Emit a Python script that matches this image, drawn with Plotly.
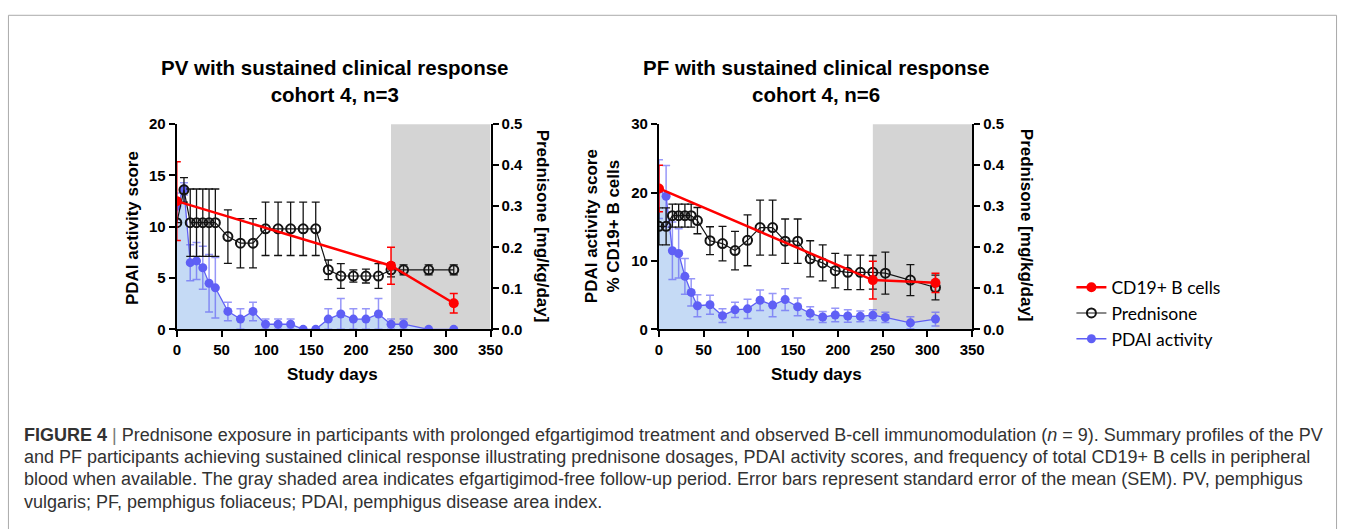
import plotly.graph_objects as go

W, H = 1352, 529

# ---------------- data ----------------
days = [0, 8, 15, 22, 29, 36, 43, 57, 71, 85, 99, 113, 127, 141, 155, 169, 183, 197, 211, 225, 239, 253, 281, 309]
cd19_days = [0, 239, 309]

# PV panel (cohort 4, n=3)
pv_pred = [0.26, 0.34, 0.26, 0.26, 0.26, 0.26, 0.26, 0.226, 0.21, 0.21, 0.245, 0.245, 0.245, 0.245, 0.245,
           0.145, 0.13, 0.13, 0.13, 0.13, 0.145, 0.145, 0.145, 0.145]
pv_pred_err = [0.0, 0.03, 0.082, 0.082, 0.082, 0.082, 0.082, 0.065, 0.06, 0.06, 0.065, 0.065, 0.065, 0.065, 0.065,
               0.024, 0.03, 0.015, 0.017, 0.03, 0.017, 0.012, 0.012, 0.012]
pv_pdai = [12.0, 13.7, 6.5, 6.67, 6.0, 4.5, 4.05, 1.75, 1.0, 1.75, 0.5, 0.5, 0.5, 0.0, 0.0,
           1.0, 1.5, 1.0, 1.0, 1.5, 0.5, 0.5, 0.0, 0.0]
pv_pdai_err = [1.3, 0.6, 1.75, 1.8, 2.1, 2.8, 2.95, 0.9, 1.0, 0.9, 0.5, 0.5, 0.5, 0.0, 0.0,
               1.0, 1.5, 1.0, 1.0, 1.5, 0.5, 0.5, 0.0, 0.0]
pv_cd19 = [12.5, 6.2, 2.55]
pv_cd19_err = [3.85, 1.8, 0.95]

# PF panel (cohort 4, n=6)
pf_pred = [0.251, 0.251, 0.277, 0.277, 0.277, 0.277, 0.265, 0.216, 0.209, 0.192, 0.217, 0.248, 0.248, 0.215, 0.215,
           0.172, 0.162, 0.143, 0.139, 0.139, 0.139, 0.137, 0.12, 0.102]
pf_pred_err = [0.045, 0.045, 0.028, 0.028, 0.028, 0.028, 0.032, 0.034, 0.042, 0.047, 0.062, 0.067, 0.067, 0.054, 0.054,
               0.044, 0.044, 0.042, 0.042, 0.042, 0.041, 0.051, 0.038, 0.03]
pf_pdai = [20.5, 19.46, 11.5, 11.1, 7.75, 5.4, 3.45, 3.6, 2.0, 2.85, 3.0, 4.25, 3.55, 4.35, 3.3,
           2.35, 1.8, 2.1, 1.95, 1.9, 2.08, 1.75, 0.95, 1.5]
pf_pdai_err = [4.3, 4.5, 4.2, 3.6, 2.6, 2.0, 1.6, 1.4, 1.0, 1.1, 1.4, 1.5, 1.7, 1.6, 1.3,
               0.95, 0.8, 1.0, 0.9, 0.8, 0.8, 0.75, 0.9, 1.0]
pf_cd19 = [20.6, 7.2, 6.8]
pf_cd19_err = [3.4, 2.75, 1.4]

followup_start, followup_end = 239, 350

x_ticks = [0, 50, 100, 150, 200, 250, 300, 350]
pv_y_ticks = [0, 5, 10, 15, 20]
pf_y_ticks = [0, 10, 20, 30]
pred_ticks = [0.0, 0.1, 0.2, 0.3, 0.4, 0.5]

# ---------------- styles ----------------
RED = "rgb(255,0,0)"
BLUE = "rgb(95,95,245)"
BLUE_ERR = "rgba(95,95,245,0.65)"
FILL = "rgb(197,218,245)"
BLACK = "rgb(20,20,20)"
GRAY = "rgb(212,212,212)"
FONT = "Liberation Sans"

def px_x(p):
    return p / W

def px_y(p):
    return 1 - p / H

fig = go.Figure()

panels = [
    dict(pdai=pv_pdai, pdai_err=pv_pdai_err, pred=pv_pred, pred_err=pv_pred_err, cd19=pv_cd19, cd19_err=pv_cd19_err,
         x="x", y="y", y_pred="y2", y_top="y5", legend=True),
    dict(pdai=pf_pdai, pdai_err=pf_pdai_err, pred=pf_pred, pred_err=pf_pred_err, cd19=pf_cd19, cd19_err=pf_cd19_err,
         x="x2", y="y3", y_pred="y4", y_top="y6", legend=False),
]

for p in panels:
    fig.add_trace(go.Scatter(x=days, y=p["pdai"], xaxis=p["x"], yaxis=p["y"], mode="none", fill="tozeroy",
                             fillcolor=FILL, showlegend=False, hoverinfo="skip"))
    fig.add_trace(go.Scatter(x=days, y=p["pdai"], xaxis=p["x"], yaxis=p["y"], mode="lines+markers",
                             name="PDAI activity", line=dict(color=BLUE, width=1.3),
                             marker=dict(color=BLUE, size=9),
                             error_y=dict(type="data", array=p["pdai_err"], color=BLUE_ERR, thickness=1.5, width=4),
                             showlegend=p["legend"], legendrank=3))
    fig.add_trace(go.Scatter(x=days, y=p["pred"], xaxis=p["x"], yaxis=p["y_pred"], mode="lines+markers",
                             name="Prednisone", line=dict(color=BLACK, width=1.2),
                             marker=dict(symbol="circle-open", color=BLACK, size=9, line=dict(width=2)),
                             error_y=dict(type="data", array=p["pred_err"], color=BLACK, thickness=1.3, width=4),
                             showlegend=p["legend"], legendrank=2))
    fig.add_trace(go.Scatter(x=cd19_days, y=p["cd19"], xaxis=p["x"], yaxis=p["y_top"], mode="lines+markers",
                             name="CD19+ B cells", line=dict(color=RED, width=2.5),
                             marker=dict(color=RED, size=10),
                             error_y=dict(type="data", array=p["cd19_err"], color=RED, thickness=1.5, width=4),
                             showlegend=p["legend"], legendrank=1))

yd = [px_y(331), px_y(119)]
xd1 = [px_x(175), px_x(492.7)]
xd2 = [px_x(663.3), px_x(980.5)]

tickfont = dict(family=FONT, size=15, color="black", weight="bold")
axcommon = dict(showline=True, linecolor="black", linewidth=2.2, ticks="outside", ticklen=6, tickwidth=2,
                tickcolor="black", showgrid=False, zeroline=False, tickfont=tickfont, fixedrange=True)

fig.update_layout(
    xaxis=dict(domain=xd1, anchor="y", range=[0, 350], tickvals=x_ticks, **axcommon),
    yaxis=dict(domain=yd, anchor="x", range=[0, 20], tickvals=pv_y_ticks, **axcommon),
    yaxis2=dict(domain=yd, anchor="x", overlaying="y", side="right", range=[0, 0.5], tickvals=pred_ticks,
                tickformat=".1f", **axcommon),
    yaxis5=dict(domain=yd, anchor="x", overlaying="y", range=[0, 20], visible=False),
    xaxis2=dict(domain=xd2, anchor="y3", range=[0, 350], tickvals=x_ticks, **axcommon),
    yaxis3=dict(domain=yd, anchor="x2", range=[0, 30], tickvals=pf_y_ticks, **axcommon),
    yaxis4=dict(domain=yd, anchor="x2", overlaying="y3", side="right", range=[0, 0.5], tickvals=pred_ticks,
                tickformat=".1f", **axcommon),
    yaxis6=dict(domain=yd, anchor="x2", overlaying="y3", range=[0, 30], visible=False),
)

# gray efgartigimod-free follow-up period
for xr in ["x", "x2"]:
    yr = "y domain" if xr == "x" else "y3 domain"
    fig.add_shape(type="rect", xref=xr, yref=yr, x0=followup_start, x1=followup_end, y0=0, y1=1,
                  fillcolor=GRAY, line=dict(width=0), layer="below")

# figure frame (open at the bottom, continues past the page)
fig.add_shape(type="rect", xref="paper", yref="paper", x0=px_x(4.5), x1=px_x(1349.5), y0=-0.2, y1=px_y(6.5),
              line=dict(color="rgb(170,170,170)", width=1), fillcolor="rgba(0,0,0,0)")

def A(text, x, y, font, **kw):
    d = dict(text=text, x=px_x(x), y=px_y(y), xref="paper", yref="paper", showarrow=False, font=font,
             xanchor="center", yanchor="middle")
    d.update(kw)
    return d

ann = []
bold = dict(family=FONT, size=20.5, color="black")
ann.append(A("<b>PV with sustained clinical response<br>cohort 4, n=3</b>", 335, 74, bold, align="center"))
ann.append(A("<b>PF with sustained clinical response<br>cohort 4, n=6</b>", 822, 74, bold, align="center"))
axt = dict(family=FONT, size=17, color="black")
ann.append(A("<b>PDAI activity score</b>", 130, 226, axt, textangle=-90))
ann.append(A("<b>Prednisone [mg/kg/day]</b>", 545, 224, axt, textangle=90))
ann.append(A("<b>PDAI activity score<br>% CD19+ B cells</b>", 606, 224, axt, textangle=-90))
ann.append(A("<b>Prednisone [mg/kg/day]</b>", 1035, 224, axt, textangle=90))
ann.append(A("<b>Study days</b>", 333, 378, axt))
ann.append(A("<b>Study days</b>", 823, 378, axt))

cap_font = dict(family=FONT, size=18, color="rgb(50,50,50)")
cap_lines = [
    "<b>FIGURE 4</b> <span style='color:rgb(120,120,120)'>|</span> Prednisone exposure in participants with prolonged efgartigimod treatment and observed B-cell immunomodulation (<i>n</i> = 9). Summary profiles of the PV",
    "and PF participants achieving sustained clinical response illustrating prednisone dosages, PDAI activity scores, and frequency of total CD19+ B cells in peripheral",
    "blood when available. The gray shaded area indicates efgartigimod-free follow-up period. Error bars represent standard error of the mean (SEM). PV, pemphigus",
    "vulgaris; PF, pemphigus foliaceus; PDAI, pemphigus disease area index.",
]
for i, line in enumerate(cap_lines):
    ann.append(A(line, 18, 440 + 23 * i, cap_font, xanchor="left", align="left"))

fig.update_layout(
    annotations=ann,
    width=W, height=H,
    margin=dict(l=0, r=0, t=0, b=0),
    paper_bgcolor="white", plot_bgcolor="rgba(0,0,0,0)",
    showlegend=True,
    legend=dict(x=px_x(1081), y=px_y(269), xanchor="left", yanchor="top", traceorder="normal",
                font=dict(family="Lato", size=17.5, color="black"), bgcolor="rgba(0,0,0,0)",
                itemwidth=30, tracegroupgap=0),
)

fig.write_html("out.html", config={"displayModeBar": False},
               post_script="document.body.style.margin='0';document.body.style.overflow='hidden';")
